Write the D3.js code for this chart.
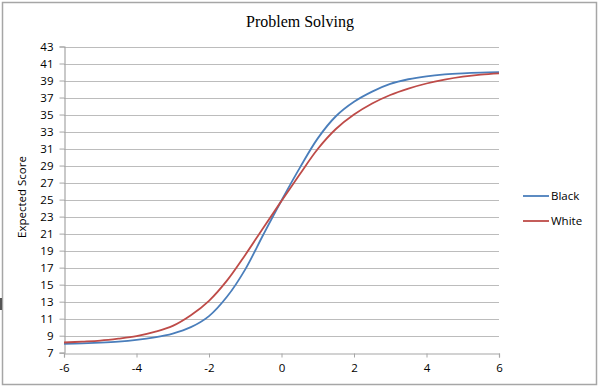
<!DOCTYPE html>
<html><head><meta charset="utf-8">
<script src="https://cdn.jsdelivr.net/npm/d3@7"></script>
<style>body{margin:0;background:#fff}svg{display:block}</style>
</head><body>
<svg id="c" width="600" height="389"></svg>
<script>
const title = "Problem Solving";
const yLabel = "Expected Score";
const thetas = [-6,-5.5,-5,-4.5,-4,-3.5,-3,-2.5,-2,-1.5,-1,-0.5,0,0.5,1,1.5,2,2.5,3,3.5,4,4.5,5,5.5,6];
const black = [8.05,8.1,8.18,8.3,8.5,8.8,9.25,10.0,11.3,13.6,16.8,20.9,24.9,28.7,32.2,34.8,36.5,37.7,38.6,39.15,39.5,39.72,39.85,39.93,39.97];
const white = [8.2,8.3,8.42,8.65,8.95,9.45,10.15,11.4,13.1,15.5,18.5,21.7,24.85,27.95,30.95,33.3,35.0,36.3,37.3,38.05,38.65,39.1,39.45,39.7,39.85];
const xTicks = [-6,-4,-2,0,2,4,6];
const yTicks = [7,9,11,13,15,17,19,21,23,25,27,29,31,33,35,37,39,41,43];
const seriesNames = ["Black","White"];
const colors = ["#4a7ebb","#be4b48"];

const svg = d3.select("#c");
const font = "'Open Sans', 'Liberation Sans', sans-serif";
svg.append("rect").attr("x",2.5).attr("y",2.5).attr("width",594).attr("height",382)
  .attr("fill","#fff").attr("stroke","#a6a6a6").attr("stroke-width",1.5);
svg.append("rect").attr("x",0).attr("y",298).attr("width",2).attr("height",12).attr("fill","#555");

const x = d3.scaleLinear().domain([-6,6]).range([64,499]);
const y = d3.scaleLinear().domain([7,43]).range([352.7,46.5]);

svg.append("g").selectAll("line").data(yTicks.slice(1)).join("line")
  .attr("x1",x(-6)).attr("x2",x(6)).attr("y1",d=>Math.round(y(d))+0.5).attr("y2",d=>Math.round(y(d))+0.5)
  .attr("stroke","#bcbcbc").attr("stroke-width",1.2);

const yAxis = svg.append("g").attr("transform",`translate(${x(-6)+0.5},0)`)
  .call(d3.axisLeft(y).tickValues(yTicks).tickSize(5).tickPadding(6).tickFormat(d3.format("d")));
const xAxis = svg.append("g").attr("transform",`translate(0,${Math.round(y(7))+0.5})`)
  .call(d3.axisBottom(x).tickValues(xTicks).tickSize(4).tickPadding(6).tickFormat(d3.format("d")));
[yAxis,xAxis].forEach(a=>{
  a.select(".domain").attr("stroke","#a6a6a6").attr("stroke-width",1.2);
  a.selectAll(".tick line").attr("stroke","#a6a6a6");
  a.selectAll("text").attr("fill","#000").style("font-family",font).style("font-size","11.5px");
});
xAxis.selectAll("text").text(d=>d<0? "-"+Math.abs(d) : d);

const line = d3.line().x(d=>x(d[0])).y(d=>y(d[1])).curve(d3.curveCatmullRom.alpha(0.5));
[black,white].forEach((s,i)=>{
  svg.append("path").datum(thetas.map((t,j)=>[t,s[j]]))
    .attr("d",line).attr("fill","none").attr("stroke",colors[i]).attr("stroke-width",1.8);
});

svg.append("text").attr("x",300).attr("y",27).attr("text-anchor","middle")
  .style("font-family","'Liberation Serif', serif").style("font-size","16px").text(title);
svg.append("text").attr("transform","translate(25.5,197) rotate(-90)").attr("text-anchor","middle")
  .style("font-family",font).style("font-size","11.5px").text(yLabel);

const lg = svg.append("g");
seriesNames.forEach((n,i)=>{
  const ly = 196 + i*25;
  lg.append("line").attr("x1",523).attr("x2",549).attr("y1",ly).attr("y2",ly)
    .attr("stroke",colors[i]).attr("stroke-width",1.8);
  lg.append("text").attr("x",551).attr("y",ly+4).style("font-family",font).style("font-size","11.5px").text(n);
});
</script>
</body></html>
